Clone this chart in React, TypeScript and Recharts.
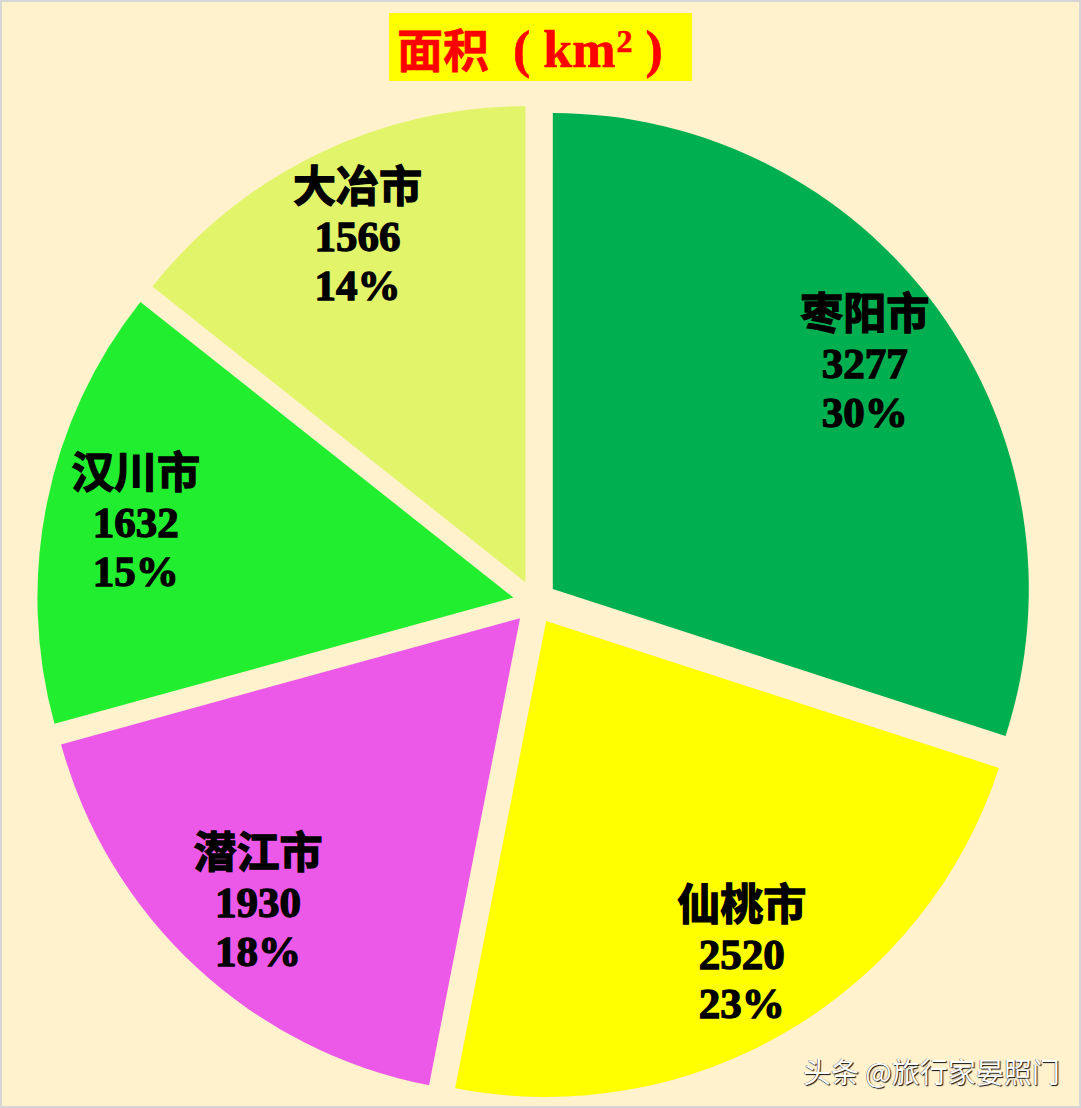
import React from 'react';
import { PieChart, Pie, Cell, Sector } from 'recharts';

const cities = ['枣阳市', '仙桃市', '潜江市', '汉川市', '大冶市'];
const areas = [3277, 2520, 1930, 1632, 1566];
const colors = ['#00B050', '#FFFF00', '#EC58E7', '#22EE30', '#E1F46A'];

const data = cities.map((name, i) => ({ name, value: areas[i] }));

const RADIAN = Math.PI / 180;
const EXPLODE = 22;
const BG = '#FFF2CC';
const LABEL_FONT = '"Liberation Serif", "Noto Sans CJK SC", serif';

const ExplodedSector = (props: any) => {
  const { cx, cy, midAngle, innerRadius, outerRadius, startAngle, endAngle, fill } = props;
  const dx = EXPLODE * Math.cos(-midAngle * RADIAN);
  const dy = EXPLODE * Math.sin(-midAngle * RADIAN);
  return (
    <Sector
      cx={cx + dx}
      cy={cy + dy}
      innerRadius={innerRadius}
      outerRadius={outerRadius}
      startAngle={startAngle}
      endAngle={endAngle}
      fill={fill}
      stroke="none"
    />
  );
};

const renderLabel = (props: any) => {
  const { cx, cy, midAngle, outerRadius, percent, name, value } = props;
  const r = EXPLODE + outerRadius * 0.81;
  const x = cx + r * Math.cos(-midAngle * RADIAN);
  const y = cy + r * Math.sin(-midAngle * RADIAN);
  return (
    <text
      x={x}
      y={y}
      textAnchor="middle"
      fill="#000"
      stroke="#000"
      strokeWidth={1.3}
      fontFamily={LABEL_FONT}
      fontWeight={700}
      fontSize={43}
    >
      <tspan x={x} dy={-49 + 16}>{name}</tspan>
      <tspan x={x} dy={49}>{value}</tspan>
      <tspan x={x} dy={49}>{`${Math.round(percent * 100)}%`}</tspan>
    </text>
  );
};

export default function App() {
  return (
    <div
      style={{
        position: 'absolute',
        left: 0,
        top: 0,
        width: 1081,
        height: 1108,
        background: BG,
        overflow: 'hidden',
      }}
    >
      <PieChart width={1081} height={1108} margin={{ top: 0, right: 0, bottom: 0, left: 0 }}>
        <Pie
          data={data}
          dataKey="value"
          nameKey="name"
          cx={535}
          cy={602}
          outerRadius={476}
          startAngle={90}
          endAngle={-270}
          shape={ExplodedSector}
          label={renderLabel}
          labelLine={false}
          stroke="none"
          isAnimationActive={false}
        >
          {data.map((d, i) => (
            <Cell key={d.name} fill={colors[i]} />
          ))}
        </Pie>
      </PieChart>

      <div
        style={{
          position: 'absolute',
          left: 389,
          top: 13,
          width: 303,
          height: 68,
          background: '#FFFF00',
          color: '#FF0000',
          fontWeight: 700,
          fontSize: 46,
          lineHeight: '68px',
          paddingLeft: 8,
          boxSizing: 'border-box',
          whiteSpace: 'nowrap',
          fontFamily: '"Noto Sans CJK SC", sans-serif',
          WebkitTextStroke: '0.6px #FF0000',
        }}
      >
        <span>面积</span>
        <span style={{ fontFamily: '"Liberation Serif", serif', fontSize: 52, marginLeft: 24 }}>
          ( km
          <span style={{ fontSize: 32, position: 'relative', top: -15, marginLeft: 1 }}>2</span> )
        </span>
      </div>

      <div
        style={{
          position: 'absolute',
          left: 803,
          top: 1051,
          fontSize: 28,
          color: '#FFFFFF',
          fontFamily: '"Noto Sans CJK SC", sans-serif',
          textShadow: '1px 1px 1px #111, -0.5px -0.5px 0 #555',
          whiteSpace: 'nowrap',
        }}
      >
        头条 @旅行家晏照门
      </div>

      <div
        style={{
          position: 'absolute',
          left: 0,
          top: 0,
          width: 1081,
          height: 1108,
          border: '2px solid #D6D6D6',
          boxSizing: 'border-box',
          pointerEvents: 'none',
        }}
      />
    </div>
  );
}
